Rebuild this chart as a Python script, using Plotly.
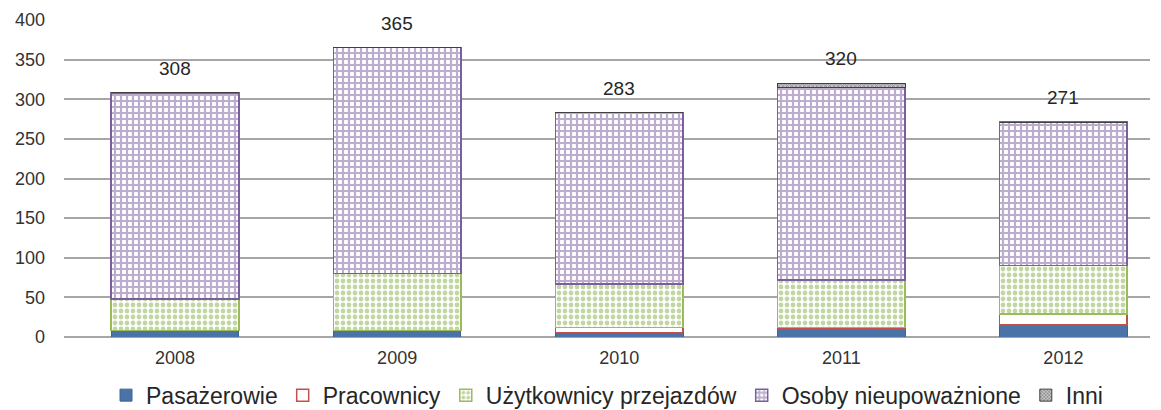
import plotly.graph_objects as go

years = ["2008", "2009", "2010", "2011", "2012"]
pasazerowie = [8, 8, 6, 10, 15]
pracownicy = [0, 0, 6, 2, 14]
uzytkownicy = [40, 72, 55, 60, 61]
osoby = [260, 285, 216, 243, 181]
inni = [0, 0, 0, 5, 0]
totals = [308, 365, 283, 320, 271]

FONT = "Liberation Sans, Arial"
TXT = "#333333"

fig = go.Figure()
fig.add_bar(x=years, y=pasazerowie, name="Pasażerowie",
            marker=dict(color="#4A74A8", line=dict(color="#3E6494", width=1)))
fig.add_bar(x=years, y=pracownicy, name="Pracownicy",
            marker=dict(color="white", line=dict(color="#C0504D", width=1.5)))
fig.add_bar(x=years, y=uzytkownicy, name="Użytkownicy przejazdów",
            marker=dict(color="white", line=dict(color="#9BBB59", width=1.5),
                        pattern=dict(shape=".", fgcolor="#86AD48", bgcolor="white",
                                     size=6, solidity=0.5)))
fig.add_bar(x=years, y=osoby, name="Osoby nieupoważnione",
            marker=dict(color="white", line=dict(color="#7A5E9E", width=1.5),
                        pattern=dict(shape="+", fgcolor="#7A5C9E", bgcolor="white",
                                     size=6, solidity=0.6)))
fig.add_bar(x=years, y=inni, name="Inni",
            marker=dict(color="white", line=dict(color="#404040", width=1),
                        pattern=dict(shape="x", fgcolor="#303030", bgcolor="#C8C8C8",
                                     size=3, solidity=0.45)))

for i, t in enumerate(totals):
    fig.add_annotation(x=i, xref="x", y=t, yref="y", text=str(t), showarrow=False,
                       yanchor="bottom", yshift=12,
                       font=dict(family=FONT, size=19, color="#262626"))

fig.update_layout(
    barmode="stack",
    bargap=0.425,
    width=1153, height=402,
    margin=dict(l=56, r=11, t=12, b=0, autoexpand=False),
    paper_bgcolor="white", plot_bgcolor="white",
    font=dict(family=FONT, size=18, color=TXT),
    showlegend=True,
    legend=dict(orientation="h", x=0.5, xanchor="center", y=0.038, yanchor="middle",
                font=dict(family=FONT, size=23, color="#262626"), traceorder="normal",
                itemwidth=30, tracegroupgap=0),
)
fig.update_xaxes(range=[-0.5, 4.39], showgrid=False, showline=False, ticks="",
                 automargin=False, ticklabelstandoff=8,
                 tickfont=dict(family=FONT, size=18, color=TXT))
fig.update_yaxes(range=[0, 400], dtick=50, domain=[73 / 390, 1],
                 showgrid=True, gridcolor="#A6A6A6", gridwidth=1.5,
                 zeroline=True, zerolinecolor="#A6A6A6", zerolinewidth=1.5,
                 showline=False, ticks="", ticklabelstandoff=18, automargin=False,
                 tickfont=dict(family=FONT, size=18, color=TXT))

fig.write_html("out.html")
